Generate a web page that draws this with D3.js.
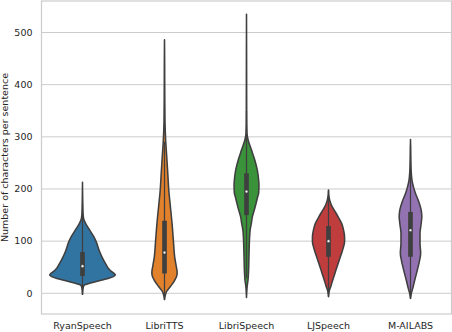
<!DOCTYPE html>
<html>
<head>
<meta charset="utf-8">
<script src="https://cdn.jsdelivr.net/npm/d3@7"></script>
<style>
  body { margin: 0; background: #fff; }
  text { font-family: "DejaVu Sans", sans-serif; }
</style>
</head>
<body>
<div id="chart"></div>
<script>
// datasets on the x axis
var categories = ["RyanSpeech", "LibriTTS", "LibriSpeech", "LJSpeech", "M-AILABS"];

// box stats (characters per sentence)
var q1 = [33, 38, 150, 70, 70];
var medians = [52, 78, 195, 100, 121];
var q3 = [79, 139, 230, 129, 156];

// violin outlines: [value, relative density], density 1 = widest violin
var ryanDensity = [[-2, 0], [6, 0.01], [12, 0.025], [16, 0.06], [19, 0.2], [22, 0.4],
    [25.5, 0.6], [28.7, 0.8], [32, 0.94], [35, 1.0], [38, 0.97], [42, 0.88], [47, 0.8],
    [55, 0.72], [65, 0.63], [80, 0.52], [100, 0.41], [110, 0.33], [121, 0.22],
    [131, 0.12], [140, 0.05], [150, 0.02], [175, 0.008], [213, 0]];
var libriTTSDensity = [[-12, 0], [-5, 0.02], [3, 0.06], [13, 0.18], [25, 0.31], [35, 0.38],
    [41, 0.385], [51, 0.36], [70, 0.31], [102, 0.27], [134, 0.23], [166, 0.18],
    [198, 0.13], [230, 0.1], [260, 0.07], [294, 0.035], [330, 0.015], [380, 0.008],
    [440, 0.005], [486, 0]];
var libriSpeechDensity = [[-8, 0], [5, 0.01], [13, 0.02], [25, 0.045], [38, 0.06], [70, 0.075],
    [102, 0.09], [121, 0.11], [135, 0.15], [147, 0.18], [160, 0.24], [172, 0.29],
    [185, 0.34], [192, 0.37], [208, 0.38], [217, 0.37], [236, 0.33], [256, 0.25],
    [275, 0.15], [294, 0.05], [307, 0.015], [340, 0.006], [420, 0.004], [535, 0]];
var ljDensity = [[-6.5, 0], [3.5, 0.02], [13, 0.07], [25.5, 0.13], [45, 0.23], [64, 0.33],
    [83, 0.43], [99, 0.49], [108.5, 0.49], [121, 0.46], [134, 0.4], [147, 0.29],
    [160, 0.17], [169.5, 0.085], [179, 0.035], [188, 0.01], [198, 0]];
var mailabsDensity = [[-10, 0], [-2, 0.02], [10, 0.07], [25.5, 0.13], [45, 0.21], [64, 0.28],
    [77, 0.31], [96, 0.29], [115, 0.29], [131, 0.32], [147, 0.345], [160, 0.325],
    [176, 0.25], [192, 0.15], [204, 0.09], [217, 0.045], [235, 0.02], [260, 0.008],
    [295, 0]];
var densities = [ryanDensity, libriTTSDensity, libriSpeechDensity, ljDensity, mailabsDensity];

var yTicks = [0, 100, 200, 300, 400, 500];

// seaborn "deep" colours at 0.75 saturation
var palette = ["#3274a1", "#e1812c", "#3a923a", "#c03d3e", "#9372b2"];
var gray = "#3f3f3f";
var lw = 1.55;

var width = 452, height = 332;
var plotLeft = 41.5, plotRight = 451.5, plotTop = 1, plotBottom = 314;

var svg = d3.select("#chart").append("svg")
    .attr("width", width)
    .attr("height", height);

var x = d3.scaleBand()
    .domain(categories)
    .range([plotLeft, plotRight]);

var y = d3.scaleLinear()
    .domain([-39.7, 560.4])
    .range([plotBottom, plotTop]);

// half width of a violin, widest one gets 0.8 of the band
var w = d3.scaleLinear()
    .domain([0, 1])
    .range([0, x.bandwidth() * 0.4]);

// grid lines
svg.append("g")
    .selectAll("line")
    .data(yTicks)
    .enter().append("line")
    .attr("x1", plotLeft).attr("x2", plotRight)
    .attr("y1", function(d) { return y(d); })
    .attr("y2", function(d) { return y(d); })
    .attr("stroke", "#cccccc")
    .attr("stroke-width", 1);

// frame
svg.append("rect")
    .attr("x", plotLeft).attr("y", plotTop)
    .attr("width", plotRight - plotLeft).attr("height", plotBottom - plotTop)
    .attr("fill", "none")
    .attr("stroke", "#cccccc")
    .attr("stroke-width", 1.2);

// y tick labels
svg.append("g")
    .selectAll("text")
    .data(yTicks)
    .enter().append("text")
    .attr("x", plotLeft - 9)
    .attr("y", function(d) { return y(d); })
    .attr("dy", "0.35em")
    .attr("text-anchor", "end")
    .attr("font-size", "9.5px")
    .attr("fill", "#262626")
    .text(function(d) { return d; });

// x tick labels
svg.append("g")
    .selectAll("text")
    .data(categories)
    .enter().append("text")
    .attr("x", function(d) { return x(d) + x.bandwidth() / 2; })
    .attr("y", 329)
    .attr("text-anchor", "middle")
    .attr("font-size", "9.5px")
    .attr("fill", "#262626")
    .text(function(d) { return d; });

// y axis title
svg.append("text")
    .attr("transform", "translate(8," + ((plotTop + plotBottom) / 2) + ") rotate(-90)")
    .attr("text-anchor", "middle")
    .attr("font-size", "9.5px")
    .attr("fill", "#262626")
    .text("Number of characters per sentence");

// violins
categories.forEach(function(cat, i) {
    var cx = x(cat) + x.bandwidth() / 2;
    var g = svg.append("g");

    var area = d3.area()
        .y(function(d) { return y(d[0]); })
        .x0(function(d) { return cx - w(d[1]); })
        .x1(function(d) { return cx + w(d[1]); })
        .curve(d3.curveMonotoneY);

    g.append("path")
        .datum(densities[i])
        .attr("d", area)
        .attr("fill", palette[i])
        .attr("stroke", gray)
        .attr("stroke-width", lw)
        .attr("stroke-linejoin", "round");

    // whiskers at 1.5 IQR, clipped to the data range
    var vals = densities[i].map(function(d) { return d[0]; });
    var iqr = q3[i] - q1[i];
    var hi = Math.min(q3[i] + 1.5 * iqr, d3.max(vals));
    var lo = Math.max(q1[i] - 1.5 * iqr, d3.min(vals));

    g.append("line")
        .attr("x1", cx).attr("x2", cx)
        .attr("y1", y(lo)).attr("y2", y(hi))
        .attr("stroke", gray)
        .attr("stroke-width", lw * 0.8);

    g.append("line")
        .attr("x1", cx).attr("x2", cx)
        .attr("y1", y(q1[i])).attr("y2", y(q3[i]))
        .attr("stroke", gray)
        .attr("stroke-width", lw * 3);

    g.append("circle")
        .attr("cx", cx)
        .attr("cy", y(medians[i]))
        .attr("r", 1.3)
        .attr("fill", "#ffffff")
        .attr("stroke", gray)
        .attr("stroke-width", 0.4);
});
</script>
</body>
</html>
